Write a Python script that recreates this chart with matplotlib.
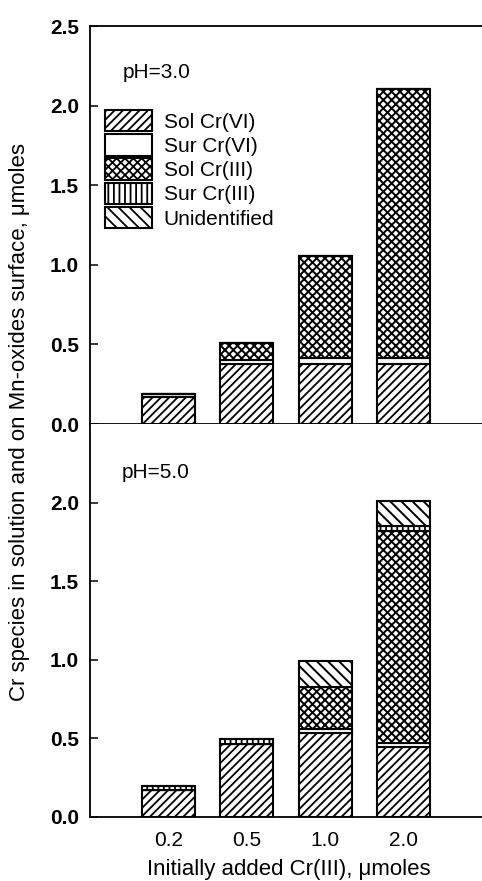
import matplotlib
matplotlib.use("Agg")
import matplotlib.pyplot as plt
import numpy as np

plt.rcParams['font.family'] = ['Liberation Sans', 'DejaVu Sans']
plt.rcParams['hatch.linewidth'] = 1.3
plt.rcParams['hatch.color'] = 'black'

categories = ['0.2', '0.5', '1.0', '2.0']
series_names = ['Sol Cr(VI)', 'Sur Cr(VI)', 'Sol Cr(III)', 'Sur Cr(III)', 'Unidentified']

# pH = 3.0
sol_vi_3 = [0.17, 0.375, 0.38, 0.38]
sur_vi_3 = [0.02, 0.027, 0.032, 0.032]
sol_iii_3 = [0.0, 0.105, 0.645, 1.69]
sur_iii_3 = [0.0, 0.0, 0.0, 0.0]
unid_3 = [0.0, 0.0, 0.0, 0.0]

# pH = 5.0
sol_vi_5 = [0.17, 0.465, 0.535, 0.445]
sur_vi_5 = [0.0, 0.0, 0.025, 0.025]
sol_iii_5 = [0.0, 0.0, 0.27, 1.35]
sur_iii_5 = [0.027, 0.032, 0.0, 0.032]
unid_5 = [0.0, 0.0, 0.16, 0.16]

hatches = ['////', '', 'xxxx', '|||', '\\\\\\']
hatch_lw = [1.3, 1.0, 1.4, 1.3, 1.4]

W, H = 482, 881
fig = plt.figure(figsize=(W / 100, H / 100), dpi=100)
ax1 = fig.add_axes([90 / W, 1 - 424 / H, 392 / W, (424 - 26) / H])
ax2 = fig.add_axes([90 / W, 1 - 817 / H, 392 / W, (817 - 424) / H])

x = np.arange(len(categories))
bw = 0.68


def draw(ax, stacks, label=True):
    bottom = np.zeros(len(categories))
    for name, vals, h, hl in zip(series_names, stacks, hatches, hatch_lw):
        vals = np.asarray(vals, dtype=float)
        with plt.rc_context({'hatch.linewidth': hl}):
            ax.bar(x, vals, bw, bottom=bottom, color='white', edgecolor='black',
                   linewidth=1.5, hatch=h, label=name if label else None)
        bottom = bottom + vals


draw(ax1, [sol_vi_3, sur_vi_3, sol_iii_3, sur_iii_3, unid_3], label=True)
draw(ax2, [sol_vi_5, sur_vi_5, sol_iii_5, sur_iii_5, unid_5], label=False)

for ax in (ax1, ax2):
    ax.set_xlim(-1, 4)
    ax.set_ylim(0, 2.5)
    ax.spines['right'].set_visible(False)
    for s in ax.spines.values():
        s.set_linewidth(1.3)
    ax.tick_params(axis='y', direction='in', length=6, width=1.1, labelsize=15, pad=8)

ax1.set_yticks([0, 0.5, 1.0, 1.5, 2.0, 2.5])
ax1.set_yticklabels(['0.0', '0.5', '1.0', '1.5', '2.0', '2.5'])
ax1.set_xticks([])
ax2.spines['top'].set_visible(False)
ax2.set_yticks([0, 0.5, 1.0, 1.5, 2.0])
ax2.set_yticklabels(['0.0', '0.5', '1.0', '1.5', '2.0'])
ax2.set_xticks(x)
ax2.set_xticklabels(categories)
ax2.tick_params(axis='x', length=0, labelsize=15, pad=10)
for ax in (ax1, ax2):
    for t in ax.get_yticklabels():
        t.set_fontweight('bold')

fig.text(123 / W, 1 - 72 / H, 'pH=3.0', fontsize=15, va='center', ha='left')
fig.text(122 / W, 1 - 473 / H, 'pH=5.0', fontsize=15, va='center', ha='left')

fig.text(20 / W, 1 - 422 / H, 'Cr species in solution and on Mn-oxides surface, \u03bcmoles',
         rotation=90, fontsize=16, va='center', ha='center')
fig.text(289 / W, 1 - 869 / H, 'Initially added Cr(III), \u03bcmoles',
         fontsize=16, va='center', ha='center')

ax1.legend(loc='upper left', bbox_to_anchor=(105 / W, 1 - 110 / H),
           bbox_transform=fig.transFigure, frameon=False, borderpad=0,
           borderaxespad=0, handlelength=2.26, handleheight=1.2,
           handletextpad=0.55, labelspacing=0.12, fontsize=15)

fig.savefig('out.png', dpi=100)
